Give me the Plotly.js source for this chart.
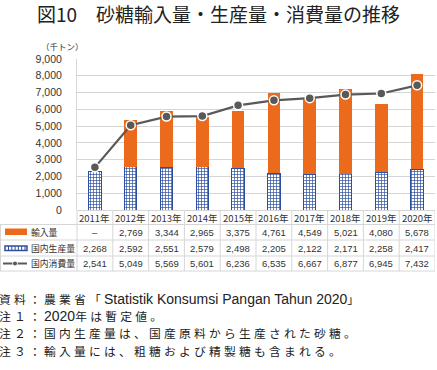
<!DOCTYPE html>
<html><head><meta charset="utf-8">
<script src="https://cdn.plot.ly/plotly-3.0.1.min.js"></script>
<style>html,body{margin:0;padding:0;background:#fff}#c{width:437px;height:370px}</style>
</head><body><div id="c"></div>
<script>
const years = ['2011年','2012年','2013年','2014年','2015年','2016年','2017年','2018年','2019年','2020年'];
const imports = [null, 2769, 3344, 2965, 3375, 4761, 4549, 5021, 4080, 5678];
const production = [2268, 2592, 2551, 2579, 2498, 2205, 2122, 2171, 2258, 2417];
const consumption = [2541, 5049, 5569, 5601, 6236, 6535, 6667, 6877, 6945, 7432];
const seriesNames = ['輸入量','国内生産量','国内消費量'];
const yTicks = [0,1000,2000,3000,4000,5000,6000,7000,8000,9000];
const SP = s => '<span style="letter-spacing:3.2px">' + s + '</span>';
const LAT = s => '<span style="font-family:\'Liberation Sans\',Arial,sans-serif;font-size:14px">' + s + '</span>';
const notes = [
  SP('資料：農業省「') + LAT('Statistik Konsumsi Pangan Tahun 2020') + SP('」'),
  SP('注１：') + LAT('2020') + SP('年は暫定値。'),
  SP('注２：国内生産量は、国産原料から生産された砂糖。'),
  SP('注３：輸入量には、粗糖および精製糖も含まれる。')
];

const ORANGE = '#ec6a1c', BLUE = '#2d4f9e', GRAY = '#595959', GRID = '#d6d6d6';
const FONT = '"Noto Sans CJK JP", "Noto Sans", sans-serif';
const NUMFONT = '"Liberation Sans", Arial, sans-serif';
const W = 437, H = 370, L = 77, R = 435, T = 59, B = 210;
const px = x => (x - L) / (R - L);
const py = y => (B - y) / (B - T);

const fmt = v => v == null ? '–' : v.toLocaleString('en-US');

const traces = [
  {type:'bar', x: years, y: production, name: seriesNames[1],
   marker:{color:'#ffffff', line:{color:BLUE, width:1},
     pattern:{shape:'+', fgcolor:BLUE, bgcolor:'#ffffff', size:3, solidity:0.4, fillmode:'replace'}},
   hoverinfo:'skip'},
  {type:'bar', x: years, y: imports, name: seriesNames[0],
   marker:{color:ORANGE}, hoverinfo:'skip'},
  {type:'scatter', mode:'lines+markers', x: years, y: consumption, name: seriesNames[2],
   line:{color:GRAY, width:2.2}, marker:{color:GRAY, size:9, line:{color:'#ffffff', width:1.5}},
   cliponaxis:false, hoverinfo:'skip'}
];

const rowY = [232, 248, 263.5];
const rowSeries = [imports, production, consumption];
const annotations = [];
const shapes = [];

years.forEach((yr, i) => {
  annotations.push({x: yr, xref:'x', y: py(217.5), yref:'paper', text: yr, showarrow:false,
    font:{family:FONT, size:9.5, color:'#333'}, xanchor:'center', yanchor:'middle'});
  rowSeries.forEach((s, r) => {
    annotations.push({x: yr, xref:'x', y: py(rowY[r]), yref:'paper', text: fmt(s[i]), showarrow:false,
      font:{family:NUMFONT, size:9.5, color:'#333'}, xanchor:'center', yanchor:'middle'});
  });
});
seriesNames.forEach((n, r) => {
  annotations.push({x: px(29), xref:'paper', y: py(rowY[r]), yref:'paper', text: n, showarrow:false,
    font:{family:FONT, size:8.8, color:'#333'}, xanchor:'left', yanchor:'middle'});
});
annotations.push({x: px(62), xref:'paper', y: py(46), yref:'paper', text:'（千トン）', showarrow:false,
  font:{family:FONT, size:8.5, color:'#333'}, xanchor:'center', yanchor:'middle'});
annotations.push({x: px(218), xref:'paper', y: py(13), yref:'paper', text:'図10　砂糖輸入量・生産量・消費量の推移', showarrow:false,
  font:{family:FONT, size:19, color:'#222'}, xanchor:'center', yanchor:'middle'});
notes.forEach((t, k) => {
  annotations.push({x: px(-2), xref:'paper', y: py(298 + k*17.4), yref:'paper', text: t, showarrow:false,
    font:{family:FONT, size:11.8, color:'#222'}, xanchor:'left', yanchor:'middle', borderpad:0});
});

const hl = (x0, x1, y) => shapes.push({type:'line', xref:'paper', yref:'paper', x0:px(x0), x1:px(x1), y0:py(y), y1:py(y), line:{color:GRID, width:1}});
hl(0, R, 224.5);
hl(0, R, 240);
hl(0, R, 256);
hl(0, R, 271);
shapes.push({type:'line', xref:'paper', yref:'paper', x0:px(0.5), x1:px(0.5), y0:py(224.5), y1:py(271), line:{color:GRID, width:1}});
shapes.push({type:'line', xref:'paper', yref:'paper', x0:px(L), x1:px(L), y0:py(B), y1:py(271), line:{color:GRID, width:1}});
for (let i = 0; i < years.length; i++) {
  shapes.push({type:'line', xref:'x', yref:'paper', x0:i+0.5, x1:i+0.5, y0:py(B), y1:py(271), line:{color:GRID, width:1}});
}
shapes.push({type:'rect', xref:'paper', yref:'paper', x0:px(5), x1:px(27), y0:py(228.5), y1:py(235), fillcolor:ORANGE, line:{width:0}});
shapes.push({type:'rect', xref:'paper', yref:'paper', x0:px(5), x1:px(27), y0:py(246), y1:py(250.5), fillcolor:'#ffffff', line:{color:BLUE, width:1.5}});
for (let k = 0; k < 6; k++) {
  shapes.push({type:'line', xref:'paper', yref:'paper', x0:px(8.5+k*3.3), x1:px(8.5+k*3.3), y0:py(246), y1:py(250.5), line:{color:BLUE, width:1}});
}
shapes.push({type:'line', xref:'paper', yref:'paper', x0:px(3), x1:px(27), y0:py(263.5), y1:py(263.5), line:{color:GRAY, width:2}});
shapes.push({type:'circle', xref:'paper', yref:'paper', x0:px(12.5), x1:px(17.5), y0:py(261), y1:py(266), fillcolor:GRAY, line:{color:'#fff', width:1}});

const layout = {
  width: W, height: H,
  margin:{l:L, r:W-R, t:T, b:H-B, pad:0},
  paper_bgcolor:'#fff', plot_bgcolor:'#fff',
  barmode:'stack', bargap:0.65,
  showlegend:false,
  font:{family:FONT, color:'#333'},
  xaxis:{type:'category', showticklabels:false, ticks:'', showgrid:false, zeroline:false,
    showline:false, range:[-0.5, years.length-0.5], fixedrange:true},
  yaxis:{range:[0,9000], tickvals:yTicks, ticktext:yTicks.map(v=>v.toLocaleString('en-US')),
    showgrid:true, gridcolor:GRID, gridwidth:1, zeroline:true, zerolinecolor:GRID,
    showline:true, linecolor:GRID, linewidth:1, ticks:'', ticklabelstandoff:12,
    tickfont:{family:NUMFONT, size:10.5, color:'#333'}, fixedrange:true},
  annotations, shapes
};
Plotly.newPlot('c', traces, layout, {displayModeBar:false, staticPlot:true});
</script></body></html>
